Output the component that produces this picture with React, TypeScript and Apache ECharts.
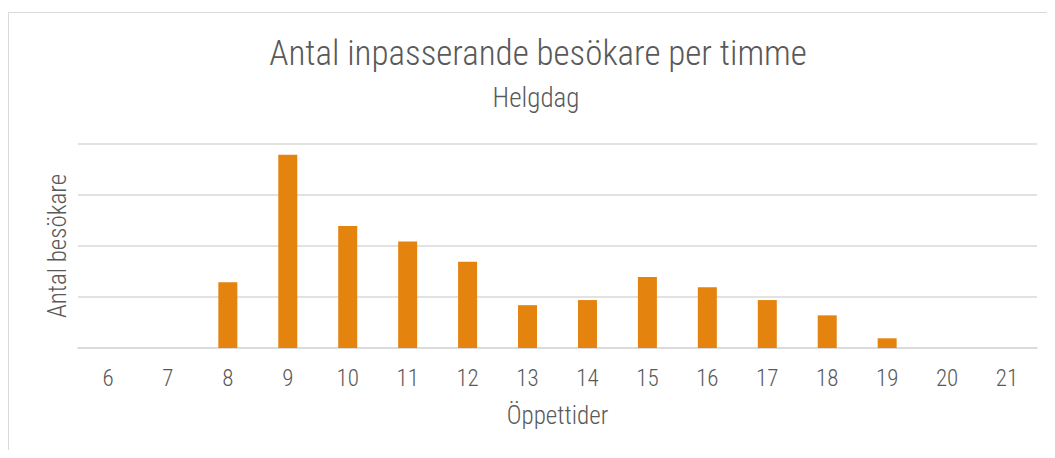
import React, { useEffect, useRef } from "react";
import * as echarts from "echarts";

const hours = ["6", "7", "8", "9", "10", "11", "12", "13", "14", "15", "16", "17", "18", "19", "20", "21"];
const visitors = [0, 0, 129, 379, 239, 209, 169, 84, 94, 139, 119, 94, 64, 19, 0, 0];
const titleText = "Antal inpasserande besökare per timme";
const subtitleText = "Helgdag";
const yName = "Antal besökare";
const xName = "Öppettider";

const FONT = "'Roboto Condensed', 'Liberation Sans Narrow', 'DejaVu Sans Condensed', sans-serif";
const TEXT = "#595959";
const W = 300;

export default function App() {
  const ref = useRef<HTMLDivElement>(null);
  useEffect(() => {
    document.body.style.overflow = "hidden";
    const chart = echarts.init(ref.current!, null, { renderer: "svg" });
    chart.setOption({
      animation: false,
      title: [
        {
          text: titleText,
          left: 524,
          top: 18,
          textAlign: "center",
          textStyle: { fontFamily: FONT, fontSize: 35, fontWeight: W, color: TEXT },
        },
        {
          text: subtitleText,
          left: 522,
          top: 66,
          textAlign: "center",
          textStyle: { fontFamily: FONT, fontSize: 27, fontWeight: W, color: TEXT },
        },
      ],
      grid: { left: 69, top: 131, width: 959, bottom: 102, containLabel: false },
      xAxis: {
        type: "category",
        data: hours,
        name: xName,
        nameLocation: "middle",
        nameGap: 55,
        nameTextStyle: { fontFamily: FONT, fontSize: 25, fontWeight: W, color: TEXT },
        axisLine: { show: true, lineStyle: { color: "#d9d9d9", width: 1.5 } },
        axisTick: { show: false },
        axisLabel: { margin: 19, fontFamily: FONT, fontSize: 23, fontWeight: W, color: TEXT },
      },
      yAxis: {
        type: "value",
        min: 0,
        max: 400,
        interval: 100,
        name: yName,
        nameLocation: "middle",
        nameGap: 8,
        nameRotate: 90,
        nameTextStyle: { fontFamily: FONT, fontSize: 25, fontWeight: W, color: TEXT },
        axisLabel: { show: false },
        axisLine: { show: false },
        axisTick: { show: false },
        splitLine: { lineStyle: { color: "#d9d9d9", width: 1.5 } },
      },
      series: [
        {
          type: "bar",
          data: visitors,
          barWidth: 19,
          itemStyle: { color: "#E5830F" },
        },
      ],
    });
    return () => chart.dispose();
  }, []);
  return (
    <div
      style={{
        marginTop: 4,
        width: 1047,
        height: 437,
        borderLeft: "1px solid #d9d9d9",
        borderTop: "1px solid #d9d9d9",
        overflow: "hidden",
      }}
    >
      <div ref={ref} style={{ width: 1046, height: 437 }} />
    </div>
  );
}
